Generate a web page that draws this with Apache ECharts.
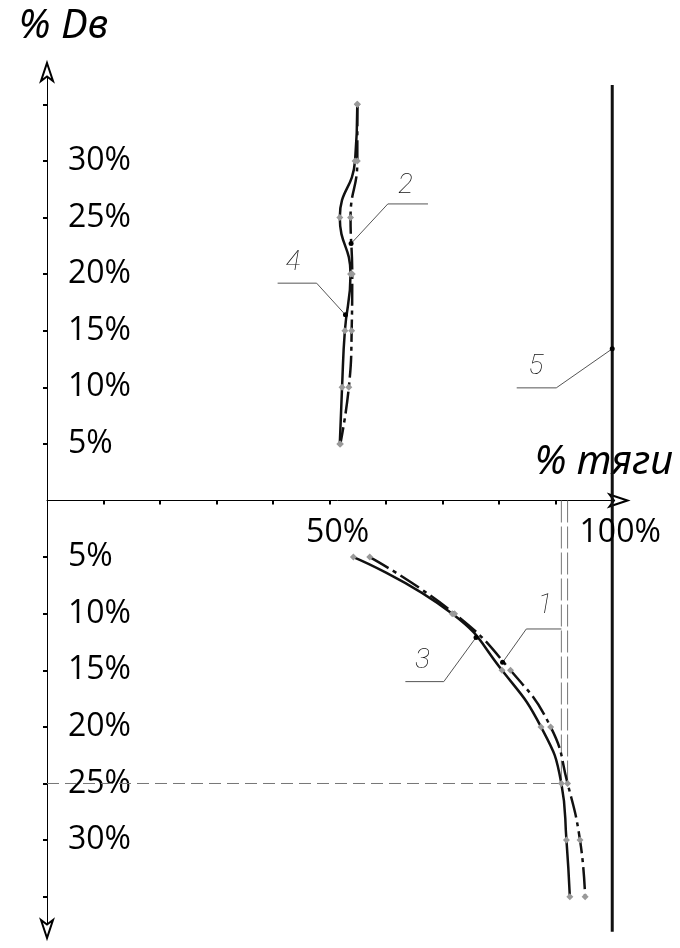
<!DOCTYPE html>
<html>
<head>
<meta charset="utf-8">
<script src="https://cdn.jsdelivr.net/npm/echarts@6/dist/echarts.min.js"></script>
<style>
  html, body { margin: 0; background: #fff; }
  #chart { width: 680px; height: 948px; }
</style>
</head>
<body>
<div id="chart"></div>
<script>
// x: % тяги, y: % Dв (lower half drawn as negative y)
const depthUp = [35, 30, 25, 20, 15, 10, 5];
const thrust4 = [54.9, 54.5, 51.8, 53.7, 52.7, 52.2, 51.8];   // curve 4, solid
const thrust2 = [54.9, 54.9, 53.7, 54.0, 53.9, 53.4, 51.9];   // curve 2, dash-dot
const depthDown = [-5, -10, -15, -20, -25, -30, -35];
const thrust3 = [54.2, 71.7, 80.5, 87.4, 91.0, 91.9, 92.5];   // curve 3, solid
const thrust1 = [57.1, 72.1, 82.0, 89.1, 92.1, 94.3, 95.2];   // curve 1, dash-dot
const fullThrust = [[100, 36.7], [100, -38.1]];               // line 5

const yTicks = [-35, -30, -25, -20, -15, -10, -5, 5, 10, 15, 20, 25, 30, 35];
const yLabels = [-30, -25, -20, -15, -10, -5, 5, 10, 15, 20, 25, 30];
const xTicks = [10, 20, 30, 40, 50, 60, 70, 80, 90];
const xLabels = [50, 100];

// guide lines at 25% Dв
const guideH = [[0, -25], [91.0, -25]];
const guideV1 = [[91.0, 0], [91.0, -25]];
const guideV2 = [[92.1, 0], [92.1, -25]];

// callouts: point on curve -> elbow -> shelf end, plus where the number sits
const tags = ['1', '2', '3', '4', '5'];
const tagDot = [[80.6, -14.3], [53.8, 22.7], [75.9, -12.1], [52.8, 16.4], [100, 13.4]];
const tagElbow = [[84.8, -11.35], [60.3, 26.2], [70.2, -16.0], [47.7, 19.2], [90.1, 9.95]];
const tagShelf = [[91.0, -11.35], [67.4, 26.2], [63.4, -16.0], [40.8, 19.2], [83.1, 9.95]];
const tagText = [[88.1, -9.3], [63.4, 27.8], [66.4, -14.2], [43.5, 21.0], [86.5, 11.8]];

const zip = (xs, ys) => xs.map((x, i) => [x, ys[i]]);
const FONT = '"Open Sans", "Noto Sans", sans-serif';
const dashDot = [22, 5, 4, 5];

function curve(data, dashed) {
    return {
        type: 'line', data: data, smooth: 0.5,
        symbol: 'diamond', symbolSize: 7, showSymbol: true,
        itemStyle: { color: '#9a9a9a' },
        lineStyle: { color: '#111', width: 2.5, type: dashed ? dashDot : 'solid' },
        z: 3
    };
}
function guide(data, dash) {
    return {
        type: 'line', data: data, symbol: 'none',
        lineStyle: { color: '#777', width: 1, type: dash }, z: 2
    };
}

let series = [
    curve(zip(thrust4, depthUp), false),
    curve(zip(thrust2, depthUp), true),
    curve(zip(thrust3, depthDown), false),
    curve(zip(thrust1, depthDown), true),
    { type: 'line', data: fullThrust, symbol: 'none', lineStyle: { color: '#111', width: 3 }, z: 3 },
    guide(guideH, [12, 6]),
    guide(guideV1, [22, 4]),
    guide(guideV2, [22, 4])
];
tags.forEach((t, i) => {
    series.push({
        type: 'line', z: 4,
        data: [
            { value: tagDot[i], symbol: 'circle', symbolSize: 5 },
            { value: tagElbow[i], symbol: 'none' },
            { value: tagShelf[i], symbol: 'none' }
        ],
        itemStyle: { color: '#000' },
        lineStyle: { color: '#555', width: 1 }
    });
});
series.push({
    type: 'scatter', symbolSize: 0, z: 5,
    itemStyle: { opacity: 1 },
    data: tagText.map((p, i) => ({ value: p, name: tags[i] })),
    label: {
        show: true, position: 'inside', formatter: '{b}',
        fontFamily: 'Roboto, "DejaVu Sans", sans-serif', fontStyle: 'italic', fontWeight: 100,
        fontSize: 28, color: '#111'
    }
});
// x tick labels sit under the zero line (axis labels of an onZero axis stay at the grid edge)
series.push({
    type: 'scatter', symbolSize: 0, z: 5,
    itemStyle: { opacity: 1 },
    data: xLabels.map(v => [v, 0]),
    label: {
        show: true, position: 'bottom', distance: 16, offset: [8, 0],
        fontFamily: FONT, fontSize: 32, color: '#000',
        formatter: p => p.value[0] + '%'
    }
});

const axisName = {
    fontFamily: '"Noto Sans", "Open Sans", sans-serif', fontStyle: 'italic',
    fontSize: 40, color: '#000', lineHeight: 44
};

let chart = echarts.init(document.getElementById('chart'));
chart.setOption({
    animation: false,
    backgroundColor: '#fff',
    grid: { left: 47, right: 52.5, top: 63, bottom: 10, containLabel: false, outerBoundsMode: 'none' },
    xAxis: [{
        type: 'value', min: 0, max: 102.7,
        name: '% тяги', nameLocation: 'end', nameGap: 45.5, nameMoveOverlap: false,
        nameTextStyle: Object.assign({ align: 'right', verticalAlign: 'bottom', padding: [0, 0, 16, 0] }, axisName),
        splitLine: { show: false },
        axisLine: { onZero: true, onZeroAxisIndex: 0, symbol: ['none', 'emptyArrow'], symbolSize: [9, 18],
            lineStyle: { color: '#000', width: 1 } },
        axisTick: { customValues: xTicks, length: 4, lineStyle: { color: '#000', width: 2 } },
        axisLabel: { show: false }
    }, {
        type: 'value', min: 0, max: 102.7,
        splitLine: { show: false },
        axisLine: { show: false, onZero: true, onZeroAxisIndex: 1 },
        axisTick: { customValues: xTicks, inside: true, length: 4, lineStyle: { color: '#000', width: 2 } },
        axisLabel: { show: false }
    }],
    yAxis: [{
        type: 'value', min: -38.65, max: 38.65,
        name: '% Dв', nameLocation: 'end', nameGap: 36, nameMoveOverlap: false,
        nameTextStyle: Object.assign({ align: 'center', verticalAlign: 'middle', padding: [0, 0, 0, 33] }, axisName),
        splitLine: { show: false },
        axisLine: { onZero: true, onZeroAxisIndex: 0, symbol: ['emptyArrow', 'emptyArrow'], symbolSize: [9, 18],
            lineStyle: { color: '#000', width: 1 } },
        axisTick: { customValues: yTicks, length: 4, lineStyle: { color: '#000', width: 2 } },
        axisLabel: {
            customValues: yLabels, inside: true, margin: 21, fontFamily: FONT, fontSize: 32,
            color: '#000', verticalAlign: 'middle', padding: [6, 0, 0, 0],
            formatter: v => Math.abs(v) + '%'
        }
    }, {
        type: 'value', min: -38.65, max: 38.65,
        splitLine: { show: false },
        axisLine: { show: false, onZero: true, onZeroAxisIndex: 1 },
        axisTick: { customValues: yTicks, inside: true, length: 4, lineStyle: { color: '#000', width: 2 } },
        axisLabel: { show: false }
    }],
    series: series
});
</script>
</body>
</html>
